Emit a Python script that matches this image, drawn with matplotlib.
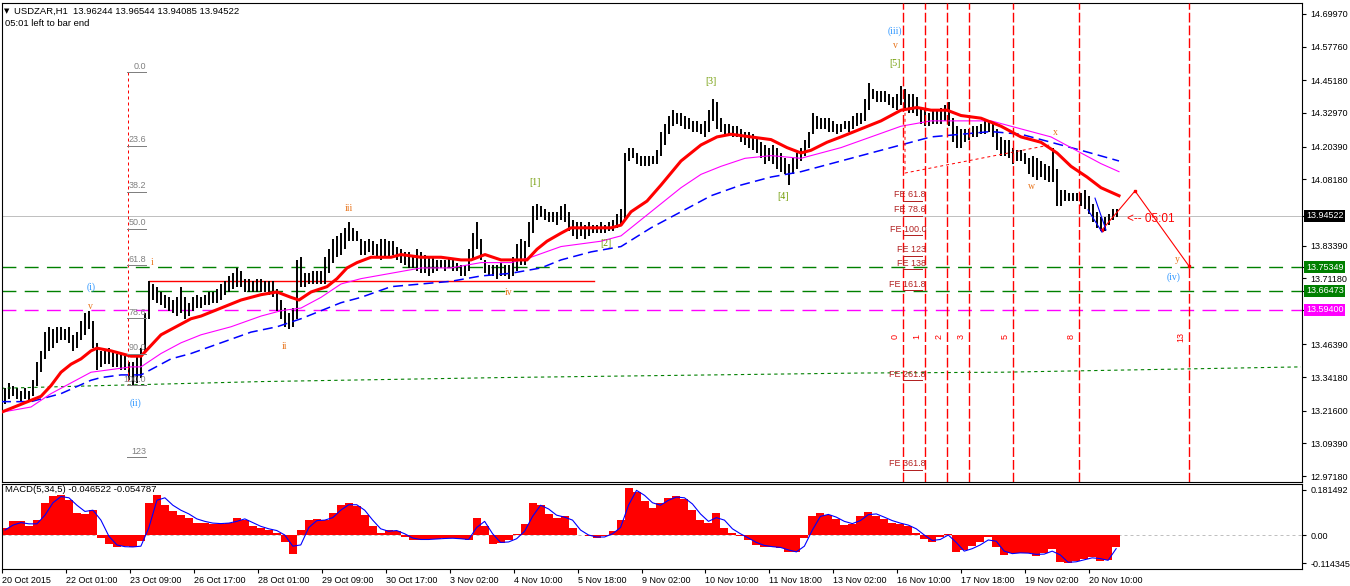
import numpy as np
import matplotlib
matplotlib.use("Agg")
import matplotlib.pyplot as plt
import matplotlib.transforms as mtransforms

plt.rcParams['font.family'] = ['Liberation Sans', 'DejaVu Sans']

# USDZAR H1 price bars, one entry per 2 hours (high / low)
bar_high = [
    13.27, 13.30, 13.32, 13.31, 13.30, 13.29, 13.30, 13.29, 13.33, 13.40,
    13.44, 13.51, 13.53, 13.52, 13.53, 13.53, 13.52, 13.53, 13.50, 13.51,
    13.55, 13.58, 13.59, 13.55, 13.47, 13.44, 13.44, 13.45, 13.44, 13.43,
    13.43, 13.42, 13.40, 13.40, 13.42, 13.45, 13.58, 13.70, 13.69, 13.68,
    13.66, 13.65, 13.64, 13.63, 13.64, 13.68, 13.64, 13.62, 13.64, 13.65,
    13.64, 13.65, 13.66, 13.66, 13.67, 13.69, 13.70, 13.72, 13.73, 13.75,
    13.74, 13.71, 13.71, 13.70, 13.71, 13.71, 13.70, 13.70, 13.70, 13.67,
    13.63, 13.60, 13.58, 13.60, 13.78, 13.79, 13.73, 13.73, 13.74, 13.74,
    13.74, 13.79, 13.82, 13.86, 13.87, 13.88, 13.90, 13.92, 13.90, 13.89,
    13.86, 13.85, 13.86, 13.85, 13.84, 13.86, 13.86, 13.85, 13.85, 13.83,
    13.82, 13.81, 13.81, 13.80, 13.82, 13.81, 13.80, 13.79, 13.79, 13.78,
    13.78, 13.78, 13.79, 13.78, 13.77, 13.76, 13.76, 13.82, 13.88, 13.92,
    13.86, 13.78, 13.76, 13.76, 13.76, 13.77, 13.76, 13.76, 13.79, 13.84,
    13.86, 13.85, 13.92, 13.98, 13.99, 13.98, 13.97, 13.96, 13.96, 13.96,
    13.98, 13.99, 13.96, 13.93, 13.92, 13.92, 13.91, 13.92, 13.91, 13.91,
    13.92, 13.91, 13.92, 13.93, 13.95, 13.97, 14.18, 14.20, 14.20, 14.18,
    14.17, 14.17, 14.17, 14.17, 14.19, 14.26, 14.29, 14.32, 14.34, 14.33,
    14.33, 14.32, 14.31, 14.30, 14.30, 14.29, 14.30, 14.34, 14.38, 14.37,
    14.31, 14.29, 14.29, 14.28, 14.28, 14.27, 14.26, 14.26, 14.25, 14.24,
    14.22, 14.21, 14.20, 14.21, 14.20, 14.18, 14.16, 14.14, 14.16, 14.18,
    14.20, 14.23, 14.26, 14.33, 14.32, 14.31, 14.31, 14.31, 14.30, 14.29,
    14.29, 14.30, 14.30, 14.32, 14.33, 14.33, 14.38, 14.44, 14.42, 14.41,
    14.41, 14.41, 14.40, 14.39, 14.40, 14.43, 14.42, 14.40, 14.40, 14.39,
    14.35, 14.34, 14.33, 14.34, 14.34, 14.35, 14.36, 14.37, 14.31, 14.28,
    14.27, 14.27, 14.27, 14.28, 14.28, 14.29, 14.30, 14.30, 14.30, 14.27,
    14.24, 14.23, 14.23, 14.20, 14.19, 14.19, 14.18, 14.16, 14.17, 14.16,
    14.15, 14.14, 14.13, 14.20, 14.12, 14.04, 14.04, 14.03, 14.03, 14.03,
    14.03, 14.04, 14.02, 13.99, 13.96, 13.94, 13.94, 13.95, 13.97, 13.97,
]
bar_low = [
    13.21, 13.24, 13.26, 13.27, 13.26, 13.25, 13.26, 13.25, 13.27, 13.31,
    13.36, 13.41, 13.44, 13.45, 13.47, 13.48, 13.48, 13.47, 13.44, 13.45,
    13.48, 13.50, 13.52, 13.45, 13.37, 13.38, 13.39, 13.39, 13.38, 13.38,
    13.37, 13.37, 13.33, 13.31, 13.32, 13.34, 13.44, 13.56, 13.63, 13.62,
    13.61, 13.60, 13.59, 13.58, 13.57, 13.58, 13.56, 13.57, 13.59, 13.60,
    13.60, 13.61, 13.61, 13.62, 13.62, 13.63, 13.65, 13.66, 13.67, 13.68,
    13.68, 13.66, 13.66, 13.66, 13.66, 13.66, 13.66, 13.65, 13.64, 13.59,
    13.56, 13.53, 13.52, 13.53, 13.56, 13.68, 13.68, 13.69, 13.69, 13.69,
    13.69, 13.69, 13.73, 13.77, 13.79, 13.80, 13.82, 13.85, 13.85, 13.85,
    13.80, 13.80, 13.81, 13.80, 13.79, 13.78, 13.79, 13.79, 13.80, 13.78,
    13.77, 13.76, 13.75, 13.75, 13.74, 13.73, 13.73, 13.72, 13.73, 13.74,
    13.75, 13.74, 13.75, 13.74, 13.74, 13.72, 13.72, 13.74, 13.78, 13.82,
    13.78, 13.73, 13.72, 13.72, 13.71, 13.72, 13.72, 13.71, 13.72, 13.74,
    13.76, 13.76, 13.83, 13.88, 13.93, 13.94, 13.93, 13.92, 13.92, 13.91,
    13.93, 13.92, 13.89, 13.87, 13.86, 13.87, 13.86, 13.87, 13.88, 13.88,
    13.88, 13.88, 13.89, 13.89, 13.90, 13.91, 13.93, 14.15, 14.16, 14.14,
    14.13, 14.13, 14.13, 14.14, 14.14, 14.17, 14.21, 14.25, 14.28, 14.29,
    14.28, 14.27, 14.27, 14.26, 14.26, 14.25, 14.24, 14.26, 14.30, 14.27,
    14.26, 14.25, 14.25, 14.24, 14.24, 14.22, 14.21, 14.20, 14.19, 14.18,
    14.16, 14.14, 14.15, 14.14, 14.12, 14.11, 14.10, 14.06, 14.10, 14.12,
    14.15, 14.17, 14.20, 14.25, 14.27, 14.27, 14.27, 14.26, 14.26, 14.25,
    14.26, 14.27, 14.26, 14.27, 14.28, 14.29, 14.30, 14.34, 14.38, 14.37,
    14.37, 14.37, 14.36, 14.35, 14.34, 14.36, 14.34, 14.33, 14.33, 14.32,
    14.29, 14.28, 14.28, 14.29, 14.29, 14.29, 14.30, 14.28, 14.22, 14.20,
    14.20, 14.22, 14.23, 14.24, 14.24, 14.25, 14.25, 14.26, 14.24, 14.19,
    14.17, 14.17, 14.16, 14.14, 14.15, 14.15, 14.14, 14.10, 14.09, 14.08,
    14.09, 14.08, 14.07, 14.07, 13.98, 13.98, 14.00, 14.00, 14.00, 14.00,
    13.98, 13.97, 13.95, 13.92, 13.90, 13.89, 13.89, 13.91, 13.93, 13.94,
]

# moving averages (bar index, price)
red_ma_x = [0, 10, 20, 25, 30, 35, 40, 45, 48, 55, 65, 70, 75, 80, 85, 90, 95, 100, 110, 120,
            130, 138, 145, 149, 155, 163, 168, 173, 178, 185, 195, 200, 210, 220, 230, 235, 242, 250, 258, 263,
            268, 273, 280, 285, 295, 305, 310, 315, 323, 330, 340, 350, 358, 365, 375, 385, 393, 400, 405, 413,
            420, 430, 440, 450, 458, 465, 473, 480, 490, 500, 510, 520, 528, 535, 543, 550, 559]
red_ma = [13.21, 13.24, 13.27, 13.31, 13.36, 13.39, 13.41, 13.44, 13.45, 13.44,
          13.42, 13.42, 13.46, 13.50, 13.52, 13.54, 13.56, 13.57, 13.60, 13.63,
          13.65, 13.66, 13.64, 13.63, 13.66, 13.68, 13.71, 13.75, 13.77, 13.79,
          13.79, 13.80, 13.79, 13.79, 13.78, 13.78, 13.80, 13.78, 13.78, 13.78,
          13.82, 13.85, 13.88, 13.90, 13.90, 13.90, 13.91, 13.96, 14.00, 14.06,
          14.15, 14.21, 14.24, 14.25, 14.24, 14.23, 14.20, 14.18, 14.19, 14.22,
          14.24, 14.27, 14.30, 14.34, 14.35, 14.34, 14.34, 14.32, 14.31, 14.28,
          14.24, 14.22, 14.18, 14.13, 14.09, 14.05, 14.02]

magenta_ma_x = [0, 15, 25, 35, 45, 55, 65, 70, 80, 90, 100, 115, 130, 140, 150, 160, 170, 180, 195, 210,
                225, 240, 255, 265, 280, 300, 310, 320, 330, 340, 350, 360, 372, 385, 400, 410, 420, 435, 450, 465,
                480, 495, 500, 510, 525, 540, 550, 559]
magenta_ma = [13.21, 13.23, 13.28, 13.32, 13.36, 13.37, 13.38, 13.38, 13.43, 13.47,
              13.50, 13.53, 13.57, 13.59, 13.60, 13.64, 13.69, 13.71, 13.73, 13.75,
              13.75, 13.77, 13.77, 13.79, 13.83, 13.85, 13.87, 13.93, 13.99, 14.05,
              14.10, 14.13, 14.16, 14.17, 14.16, 14.18, 14.20, 14.24, 14.28, 14.30,
              14.30, 14.30, 14.29, 14.27, 14.24, 14.18, 14.14, 14.11]

blue_ma_x = [0, 15, 30, 45, 50, 60, 70, 75, 85, 95, 110, 125, 138, 150, 160, 170, 180, 195, 210, 225,
             240, 255, 270, 280, 295, 310, 325, 340, 355, 370, 385, 400, 420, 435, 450, 465, 480, 495, 510, 525,
             540, 559]
blue_ma = [13.25, 13.25, 13.28, 13.33, 13.34, 13.35, 13.35, 13.37, 13.41, 13.43,
           13.47, 13.51, 13.53, 13.56, 13.59, 13.62, 13.64, 13.68, 13.69, 13.70,
           13.72, 13.73, 13.75, 13.78, 13.81, 13.83, 13.90, 13.96, 14.02, 14.06,
           14.09, 14.11, 14.15, 14.18, 14.21, 14.24, 14.25, 14.26, 14.25, 14.22,
           14.19, 14.15]

green_ma_x = [0, 50, 130, 250, 430, 500, 650]
green_ma = [13.30, 13.31, 13.325, 13.34, 13.357, 13.36, 13.38]

# MACD(5,34,5), one entry per 4 bars
macd_hist = [
    0.03, 0.055, 0.055, 0.036, 0.06, 0.13, 0.158, 0.16, 0.14, 0.088,
    0.085, 0.10, -0.013, -0.036, -0.047, -0.046, -0.05, -0.025, 0.13, 0.16,
    0.12, 0.095, 0.08, 0.07, 0.05, 0.05, 0.045, 0.046, 0.05, 0.07,
    0.06, 0.038, 0.028, 0.022, 0.01, -0.03, -0.075, 0.02, 0.06, 0.063,
    0.06, 0.09, 0.12, 0.128, 0.115, 0.08, 0.035, 0.01, 0.022, 0.015,
    -0.01, -0.022, -0.02, -0.017, -0.015, -0.013, -0.013, -0.017, -0.02, 0.07,
    0.035, -0.038, -0.033, -0.02, 0.005, 0.045, 0.13, 0.12, 0.085, 0.068,
    0.075, 0.03, 0.0, -0.004, -0.014, -0.005, 0.018, 0.06, 0.19, 0.175,
    0.138, 0.11, 0.13, 0.15, 0.157, 0.145, 0.10, 0.06, 0.047, 0.087,
    0.03, 0.01, -0.004, -0.022, -0.04, -0.047, -0.047, -0.052, -0.07, -0.068,
    -0.013, 0.075, 0.087, 0.08, 0.063, 0.042, 0.044, 0.075, 0.092, 0.078,
    0.063, 0.048, 0.045, 0.035, 0.01, -0.018, -0.027, -0.007, 0.005, -0.07,
    -0.062, -0.045, -0.03, -0.01, -0.05, -0.08, -0.072, -0.072, -0.074, -0.083,
    -0.072, -0.056, -0.11, -0.113, -0.103, -0.095, -0.087, -0.105, -0.1, -0.05,
]
macd_signal = [
    0.02, 0.04, 0.05, 0.045, 0.045, 0.08, 0.13, 0.155, 0.15, 0.12,
    0.095, 0.1, 0.06, -0.005, -0.04, -0.047, -0.048, -0.045, 0.03, 0.14,
    0.15, 0.12, 0.1, 0.085, 0.065, 0.055, 0.048, 0.046, 0.048, 0.055,
    0.065, 0.05, 0.035, 0.025, 0.018, 0.0, -0.045, -0.04, 0.03, 0.058,
    0.06, 0.07, 0.1, 0.122, 0.122, 0.1, 0.06, 0.025, 0.015, 0.018,
    0.005, -0.012, -0.018, -0.018, -0.016, -0.014, -0.013, -0.015, -0.018, 0.03,
    0.055, 0.005, -0.03, -0.028, -0.015, 0.015, 0.075, 0.12, 0.105, 0.08,
    0.072, 0.06, 0.02, 0.0, -0.008, -0.008, 0.005, 0.03, 0.12, 0.18,
    0.16, 0.13, 0.12, 0.14, 0.153, 0.15, 0.125, 0.085, 0.055, 0.07,
    0.06, 0.025, 0.005, -0.012, -0.03, -0.042, -0.047, -0.05, -0.06, -0.068,
    -0.045, 0.02, 0.075, 0.083, 0.072, 0.055, 0.046, 0.058, 0.082, 0.085,
    0.072, 0.058, 0.048, 0.04, 0.025, 0.0, -0.022, -0.018, 0.0, -0.03,
    -0.065, -0.055, -0.04, -0.02, -0.025, -0.065, -0.075, -0.072, -0.073, -0.078,
    -0.077, -0.065, -0.08, -0.11, -0.108, -0.1, -0.092, -0.095, -0.102, -0.055,
]

price_ticks = [14.69970, 14.57760, 14.45180, 14.32970, 14.20390, 14.08180, 13.83390,
               13.71180, 13.46390, 13.34180, 13.21600, 13.09390, 12.97180]
mark_levels = [13.94522, 13.75349, 13.66473, 13.59400]
mark_colors = ['black', '#008000', '#008000', '#FF00FF']
macd_ticks = [0.181492, 0.0, -0.114345]
macd_labels = ['0.181492', '0.00', '-0.114345']

time_labels = ['20 Oct 2015', '22 Oct 01:00', '23 Oct 09:00', '26 Oct 17:00', '28 Oct 01:00',
               '29 Oct 09:00', '30 Oct 17:00', '3 Nov 02:00', '4 Nov 10:00', '5 Nov 18:00',
               '9 Nov 02:00', '10 Nov 10:00', '11 Nov 18:00', '13 Nov 02:00', '16 Nov 10:00',
               '17 Nov 18:00', '19 Nov 02:00', '20 Nov 10:00']

fib_levels = [0.0, 23.6, 38.2, 50.0, 61.8, 78.6, 90.0, 100.0, 123]
fib_labels = ['0.0', '23.6', '38.2', '50.0', '61.8', '78.6', '90.0', '100.0', '123']
fib_top, fib_bottom = 14.483, 13.312
fe_levels = [61.8, 78.6, 100.0, 123, 138, 161.8, 261.8, 361.8]
fe_labels = ['FE 61.8', 'FE 78.6', 'FE 100.0', 'FE 123', 'FE 138', 'FE 161.8', 'FE 261.8', 'FE 361.8']
fe_zero, fe_unit = 14.208, 0.335
tz_numbers = [0, 1, 2, 3, 5, 8, 13]
tz_start, tz_step = 451, 11

wave_text = ['(i)', 'v', 'i', '(ii)', 'ii', 'iii', 'iv', '[1]', '[2]', '[3]', '[4]', '[5]',
             'v', '(iii)', 'w', 'x', 'y', '(iv)']
wave_x = [45, 44.5, 75.5, 67.5, 142, 174, 254, 267, 302.5, 355, 391, 447, 447, 447, 515, 527, 588, 586.5]
wave_y = [13.679, 13.604, 13.772, 13.245, 13.458, 13.974, 13.657, 14.071, 13.843, 14.449,
          14.019, 14.516, 14.580, 14.636, 14.056, 14.255, 13.780, 13.716]
wave_kind = ['b', 'o', 'o', 'b', 'o', 'o', 'o', 'g', 'g', 'g', 'g', 'g', 'o', 'b', 'o', 'o', 'o', 'b']
wave_colors = {'b': '#3399FF', 'o': '#E8741C', 'g': '#6F9A00'}

zigzag_x = [550.5, 567, 594]
zigzag_y = [13.892, 14.038, 13.757]
fe_path_x = [452, 452, 524.5]
fe_path_y = [14.33, 14.105, 14.21]

W, H = 1350, 586
fig = plt.figure(figsize=(W / 100, H / 100), dpi=100)
ax = fig.add_axes([2 / W, 1 - 482 / H, 1300 / W, 479 / H])
ax2 = fig.add_axes([2 / W, 1 - 569 / H, 1300 / W, 85 / H])

for a in (ax, ax2):
    a.set_xlim(0.5, 650.5)
    for s in a.spines.values():
        s.set_linewidth(0.8)
        s.set_color('black')
ax.set_ylim(12.9495, 14.7408)
ax2.set_ylim(-0.137, 0.2056)

thin = 0.72   # one pixel
dash_w = 1.0  # dashed level / time lines

# horizontal levels
ax.axhline(13.94522, color='#C0C0C0', lw=thin, zorder=1)
ax.axhline(13.75349, color='#008000', lw=dash_w, dashes=(10, 6), zorder=1)
ax.axhline(13.66473, color='#008000', lw=dash_w, dashes=(10, 6), zorder=1)
ax.axhline(13.59400, color='#FF00FF', lw=dash_w, dashes=(10, 6), zorder=1)
ax.plot([74, 296.5], [13.701, 13.701], color='red', lw=dash_w, zorder=1)

# price bars
bx = np.arange(len(bar_high)) * 2
ax.vlines(bx, bar_low, bar_high, color='black', lw=1.4, zorder=2)

# moving averages
ax.plot(green_ma_x, green_ma, color='#008000', lw=0.8, dashes=(3, 3), zorder=2)
ax.plot(blue_ma_x, blue_ma, color='#0000FF', lw=1.1, dashes=(6.5, 3.5), zorder=3)
ax.plot(magenta_ma_x, magenta_ma, color='#FF00FF', lw=0.8, zorder=3)
ax.plot(red_ma_x, red_ma, color='#FF0000', lw=2.2, zorder=3)

# fibonacci time zones
for n in tz_numbers:
    xv = tz_start + n * tz_step
    ax.axvline(xv, color='#FF0000', lw=dash_w, dashes=(7, 2.2), zorder=4)
    ax.text(xv - 4, 13.492, str(n), rotation=90, color='red', fontsize=6.5,
            ha='center', va='center', zorder=5)

# fibonacci retracement
ax.plot([63.5, 63.5], [fib_top, fib_bottom], color='red', lw=thin, dashes=(3, 3), zorder=4)
for lev, lab in zip(fib_levels, fib_labels):
    p = fib_top - (fib_top - fib_bottom) * lev / 100
    ax.plot([63, 72.5], [p, p], color='#808080', lw=thin, zorder=4)
    ax.text(72.5, p + 0.022, lab, color='#808080', fontsize=6.5, ha='right', va='center', zorder=5)

# fibonacci expansion
ax.plot(fe_path_x, fe_path_y, color='red', lw=thin, dashes=(3, 3), zorder=4)
for lev, lab in zip(fe_levels, fe_labels):
    p = fe_zero - fe_unit * lev / 100
    ax.plot([451, 460.5], [p, p], color='#B22222', lw=thin, zorder=4)
    ax.text(462.5, p + 0.022, lab, color='#B22222', fontsize=6.5, ha='right', va='center', zorder=5)

# forecast zigzag and channel
ax.plot(zigzag_x, zigzag_y, color='red', lw=0.8, marker='s', ms=2, zorder=4)
ax.plot([543.5, 550.5], [13.967, 13.884], color='#0000FF', lw=0.8, zorder=4)
ax.plot([547, 552.5], [14.011, 13.892], color='#0000FF', lw=0.8, zorder=4)
ax.text(563, 13.933, '<-- 05:01', color='red', fontsize=8.5, ha='left', va='center', zorder=5)

# elliott wave labels
for t, x, y, k in zip(wave_text, wave_x, wave_y, wave_kind):
    ax.text(x, y, t, color=wave_colors[k], fontsize=7, family='Liberation Serif',
            ha='center', va='center', zorder=5)

# right price scale
ax.set_xticks([])
ax.yaxis.tick_right()
ax.set_yticks(price_ticks)
ax.set_yticklabels([f'{v:.5f}' for v in price_ticks])
ax.set_yticks(mark_levels, minor=True)
ax.tick_params(axis='y', which='both', length=3, width=0.8, pad=3, labelsize=6.5, direction='out')
trans = mtransforms.blended_transform_factory(ax.transAxes, ax.transData)
for lev, col in zip(mark_levels, mark_colors):
    ax.text(1 + 4 / 1300, lev, f'{lev:.5f}', transform=trans, color='white', fontsize=6.5,
            ha='left', va='center', bbox=dict(boxstyle='square,pad=0.18', fc=col, ec='none'))

# MACD panel
mx = np.arange(len(macd_hist)) * 4 + 1.5
ax2.axhline(0, color='#C0C0C0', lw=thin, dashes=(3, 3), zorder=1)
ax2.bar(mx, macd_hist, width=4, color='red', linewidth=0, zorder=2)
ax2.plot(mx, macd_signal, color='#0000FF', lw=0.8, zorder=3)
ax2.yaxis.tick_right()
ax2.set_yticks(macd_ticks)
ax2.set_yticklabels(macd_labels)
ax2.tick_params(axis='y', length=3, width=0.8, pad=3, labelsize=6.5)
ax2.set_xticks(np.arange(len(time_labels)) * 32)
ax2.set_xticklabels(time_labels)
ax2.tick_params(axis='x', length=3, width=0.8, pad=2, labelsize=6.5)
for lbl in ax2.get_xticklabels():
    lbl.set_horizontalalignment('left')

# header texts
fig.text(7 / W, 1 - 11 / H, '\u25bc', fontsize=5, family='DejaVu Sans', va='center', ha='center')
fig.text(14 / W, 1 - 11 / H, 'USDZAR,H1  13.96244 13.96544 13.94085 13.94522', fontsize=6.8, va='center')
fig.text(5 / W, 1 - 23 / H, '05:01 left to bar end', fontsize=6.8, va='center')
fig.text(5 / W, 1 - 490 / H, 'MACD(5,34,5) -0.046522 -0.054787', fontsize=6.8, va='center')

fig.savefig('out.png', dpi=100)
